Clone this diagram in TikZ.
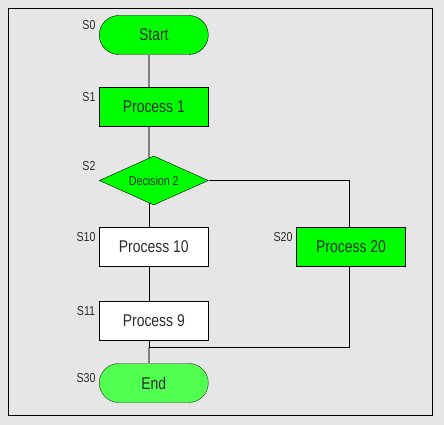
\documentclass[tikz,border=0pt]{standalone}
\usepackage{fontspec}
\setmainfont{Liberation Sans}[FakeStretch=0.82]
\usetikzlibrary{shapes.geometric}
\pgfdeclarelayer{bg}
\pgfdeclarelayer{links}
\pgfsetlayers{bg,links,main}
\definecolor{bggrey}{RGB}{230,230,230}
\definecolor{stepgreen}{RGB}{0,255,0}
\definecolor{endgreen}{RGB}{80,255,80}
\definecolor{txtgrey}{RGB}{45,45,45}
\definecolor{linkgrey}{RGB}{128,128,128}
\tikzset{every picture/.style={line width=1pt}}
\tikzset{
	stepbox/.style={draw=black, minimum width=109pt, minimum height=39pt, inner sep=0pt,
		font=\fontsize{17}{17}\selectfont, text=txtgrey},
	termbox/.style={stepbox, rounded corners=19.5pt},
	decbox/.style={diamond, draw=black, fill=stepgreen, minimum width=109pt, minimum height=49pt,
		inner sep=0pt, aspect=2.2, font=\fontsize{13}{13}\selectfont, text=txtgrey},
	steplabel/.style={font=\fontsize{13}{13}\selectfont, text=txtgrey, inner sep=0pt},
	greylink/.style={draw=linkgrey, line width=2pt},
	blacklink/.style={draw=black, line width=1pt}}

\begin{document}
\begin{tikzpicture}[x=1pt,y=1pt,yscale=-1,xscale=1]
	%Background and frame
	\begin{pgfonlayer}{bg}
		\fill [bggrey] (0,0) rectangle (444,425);
		\draw  (8,8) rectangle (432,415);
	\end{pgfonlayer}

	%Shape: Terminal [id:start]
	\node [termbox, fill=stepgreen] (start) at (153.8,35) {Start};
	%Shape: Process [id:p1]
	\node [stepbox, fill=stepgreen] (p1) at (153.8,107) {Process 1};
	%Shape: Decision [id:dec2]
	\node [decbox] (dec2) at (153.8,180.5) {Decision 2};
	%Shape: Process [id:p10]
	\node [stepbox, fill=white] (p10) at (153.8,247) {Process 10};
	%Shape: Process [id:p9]
	\node [stepbox, fill=white] (p9) at (153.8,321) {Process 9};
	%Shape: Process [id:p20]
	\node [stepbox, fill=stepgreen] (p20) at (351,247) {Process 20};
	%Shape: Terminal [id:end]
	\node [termbox, fill=endgreen, draw=txtgrey] (end) at (153.8,383) {End};

	%Join point and right branch line
	\coordinate (join) at (149,347.3);
	\coordinate (rbranch) at (349,180.5);

	%Straight Lines
	\begin{pgfonlayer}{links}
		\draw [greylink] (start.south -| join) -- (p1.north -| join) ;
		\draw [greylink] (p1.south -| join) -- (dec2 -| join) ;
		\draw [blacklink] (dec2 -| join) -- (p10.north -| join) ;
		\draw [blacklink] (p10.south -| join) -- (p9.north -| join) ;
		\draw [blacklink] (p9.south -| join) -- (join) ;
		\draw [greylink] (join) -- (end.north -| join) ;
		\draw [blacklink] (dec2.east) -| (p20.north -| rbranch) ;
		\draw [blacklink] (p20.south -| rbranch) |- (join) ;
	\end{pgfonlayer}

	% Text Node
	\node [steplabel] (s0) at (89,25) {S0};
	% Text Node
	\node [steplabel] (s1) at (89,97) {S1};
	% Text Node
	\node [steplabel] (s2) at (89,166) {S2};
	% Text Node
	\node [steplabel] (s10) at (86,237) {S10};
	% Text Node
	\node [steplabel] (s11) at (86,311) {S11};
	% Text Node
	\node [steplabel] (s30) at (86,378) {S30};
	% Text Node
	\node [steplabel] (s20) at (283,237) {S20};
\end{tikzpicture}
\end{document}
